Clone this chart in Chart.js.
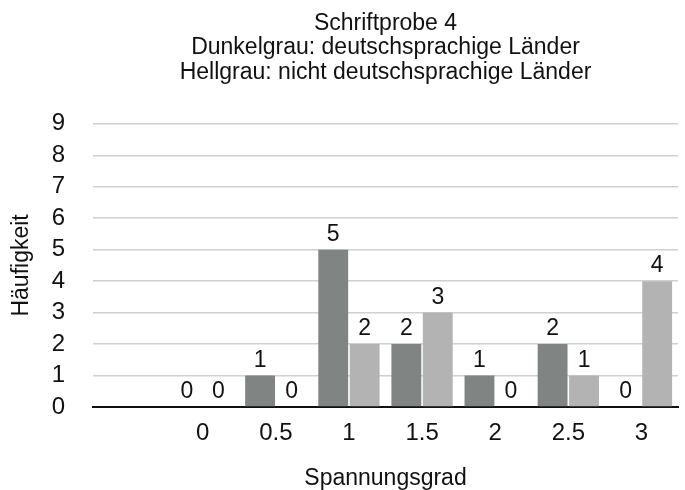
<!DOCTYPE html>
<html>
<head>
<meta charset="utf-8">
<script src="https://cdn.jsdelivr.net/npm/chart.js@4"></script>
<style>
  body { margin: 0; background: #fff; }
  #wrap { width: 685px; height: 490px; }
</style>
</head>
<body>
<div id="wrap"><canvas id="chart"></canvas></div>
<script>
// Kategorien (erste bleibt leer wie im Original)
const categories = ['', '0', '0.5', '1', '1.5', '2', '2.5', '3'];
const deutschsprachig = [null, 0, 1, 5, 2, 1, 2, 0];
const nichtDeutschsprachig = [null, 0, 0, 2, 3, 0, 1, 4];
const yMax = 9;

const FONT = '"Liberation Sans", Arial, Helvetica, sans-serif';

// Werte über den Balken schreiben
const barValues = {
    id: 'barValues',
    afterDatasetsDraw(chart) {
        const ctx = chart.ctx;
        ctx.save();
        ctx.font = '23px ' + FONT;
        ctx.fillStyle = '#111';
        ctx.textAlign = 'center';
        ctx.textBaseline = 'alphabetic';
        chart.data.datasets.forEach((ds, i) => {
            chart.getDatasetMeta(i).data.forEach((bar, j) => {
                const v = ds.data[j];
                if (v === null) return;
                ctx.fillText(String(v), bar.x, bar.y - 9);
            });
        });
        ctx.restore();
    }
};

new Chart(document.getElementById('chart').getContext('2d'), {
    type: 'bar',
    data: {
        labels: categories,
        datasets: [{
            label: 'deutschsprachige Länder',
            data: deutschsprachig,
            backgroundColor: '#808583',
            categoryPercentage: 0.86,
            barPercentage: 0.95
        }, {
            label: 'nicht deutschsprachige Länder',
            data: nichtDeutschsprachig,
            backgroundColor: '#b3b3b3',
            categoryPercentage: 0.86,
            barPercentage: 0.95
        }]
    },
    options: {
        responsive: true,
        maintainAspectRatio: false,
        animation: false,
        layout: { padding: { left: 8, right: 7, top: 0, bottom: 0 } },
        plugins: {
            legend: { display: false },
            tooltip: { enabled: false },
            title: {
                display: true,
                fullSize: false,
                text: ['Schriftprobe 4', 'Dunkelgrau: deutschsprachige Länder', 'Hellgrau: nicht deutschsprachige Länder'],
                color: '#111',
                font: { family: FONT, size: 23, weight: 'normal', lineHeight: 1.07 },
                padding: { top: 11, bottom: 39 }
            }
        },
        scales: {
            x: {
                afterFit(scale) { scale.height = 83; },
                grid: { display: false, drawTicks: false },
                border: { color: '#111', width: 2 },
                ticks: { color: '#111', font: { family: FONT, size: 24 }, padding: 12 },
                title: {
                    display: true,
                    text: 'Spannungsgrad',
                    color: '#111',
                    font: { family: FONT, size: 23 },
                    padding: { top: 0, bottom: -2 }
                }
            },
            y: {
                min: 0,
                max: yMax,
                afterFit(scale) { scale.width = 85; },
                grid: { color: '#d0d0d0', lineWidth: 1.5, drawTicks: false },
                border: { display: false },
                ticks: { color: '#111', font: { family: FONT, size: 24 }, padding: 28, stepSize: 1, autoSkip: false },
                title: {
                    display: true,
                    text: 'Häufigkeit',
                    color: '#111',
                    font: { family: FONT, size: 23 },
                    padding: { top: 0, bottom: 0 }
                }
            }
        }
    },
    plugins: [barValues]
});
</script>
</body>
</html>
